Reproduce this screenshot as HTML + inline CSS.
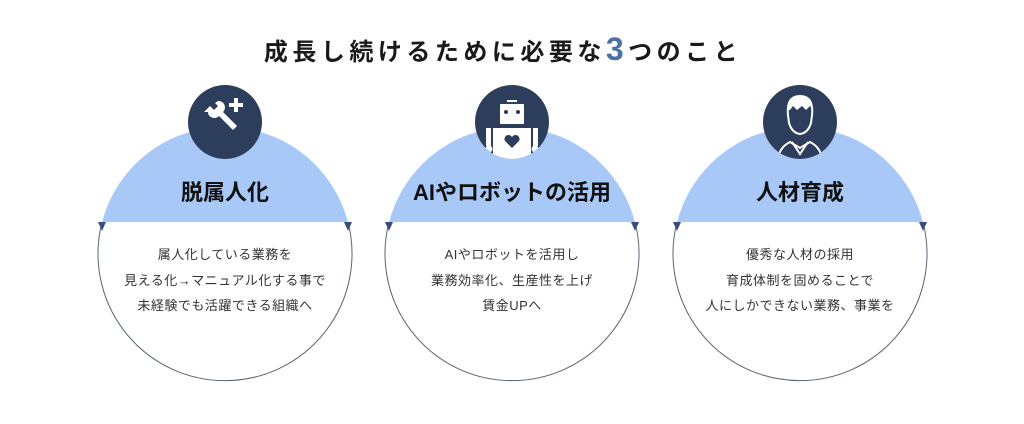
<!DOCTYPE html>
<html><head><meta charset="utf-8"><style>
html,body{margin:0;padding:0;background:#fff;}
svg{display:block;}
text{font-family:"Liberation Sans","Noto Sans CJK JP",sans-serif;}
</style></head><body>
<svg width="1024" height="424" viewBox="0 0 1024 424" xmlns="http://www.w3.org/2000/svg">
<defs>
<clipPath id="top"><rect x="0" y="0" width="1024" height="222"/></clipPath>
<clipPath id="ic2"><circle cx="512" cy="122" r="37"/></clipPath>
<clipPath id="ic3"><circle cx="800" cy="122" r="37"/></clipPath>
</defs>
<text x="503" y="60" text-anchor="middle" font-size="24" font-weight="bold" fill="#1a1a1a" letter-spacing="4.5">成長し続けるために必要な<tspan fill="#4f70a6" font-size="32">3</tspan>つのこと</text>

<g id="c1">
<path d="M102,222 A127,127 0 1 0 348,222" fill="#fff" stroke="#5a6478" stroke-width="1"/>
<circle cx="225" cy="254" r="127" fill="#a8c8f8" clip-path="url(#top)"/>
<polygon points="98,222 106,222 102,231" fill="#3a4f78"/>
<polygon points="344,222 352,222 348,231" fill="#3a4f78"/>
<text x="225" y="200" text-anchor="middle" font-size="22" font-weight="bold" fill="#111">脱属人化</text>
<g font-size="13" fill="#333" text-anchor="middle" letter-spacing="0.5">
<text x="225" y="259">属人化している業務を</text>
<text x="225" y="285">見える化→マニュアル化する事で</text>
<text x="225" y="310">未経験でも活躍できる組織へ</text>
</g>
<circle cx="225" cy="122" r="37" fill="#2d3d5c"/>
<g fill="#fff">
<path d="M204,112 l6,-6 l4,4 l4,-4 l-3,-3 l3,-2 q6,0 7,6 q0,3 -2,5 l14,14 l-4,4 l-14,-14 q-2,2 -5,2 q-6,-1 -6,-6z" />
<rect x="229" y="103" width="14" height="4"/>
<rect x="234" y="98" width="4" height="14"/>
</g>
</g>

<g id="c2">
<path d="M389,222 A127,127 0 1 0 635,222" fill="#fff" stroke="#5a6478" stroke-width="1"/>
<circle cx="512" cy="254" r="127" fill="#a8c8f8" clip-path="url(#top)"/>
<polygon points="385,222 393,222 389,231" fill="#3a4f78"/>
<polygon points="631,222 639,222 635,231" fill="#3a4f78"/>
<text x="512" y="200" text-anchor="middle" font-size="22" font-weight="bold" fill="#111">AIやロボットの活用</text>
<g font-size="13" fill="#333" text-anchor="middle" letter-spacing="0.5">
<text x="512" y="259">AIやロボットを活用し</text>
<text x="512" y="285">業務効率化、生産性を上げ</text>
<text x="512" y="310">賃金UPへ</text>
</g>
<circle cx="512" cy="122" r="37" fill="#2d3d5c"/>
<g fill="#fff" clip-path="url(#ic2)">
<rect x="500" y="104" width="24" height="20" rx="1"/>
<rect x="507" y="100" width="10" height="2"/>
<rect x="493" y="128" width="38" height="34"/>
<rect x="486" y="128" width="5" height="18"/>
<rect x="533" y="128" width="5" height="18"/>
<circle cx="489" cy="149" r="3.5"/>
<circle cx="535" cy="149" r="3.5"/>
</g>
<circle cx="506" cy="112" r="2" fill="#2d3d5c"/>
<circle cx="518" cy="112" r="2" fill="#2d3d5c"/>
<path d="M512,148 l-7,-7 a4,4 0 0 1 7,-4 a4,4 0 0 1 7,4z" fill="#2d3d5c"/>
</g>

<g id="c3">
<path d="M677,222 A127,127 0 1 0 923,222" fill="#fff" stroke="#5a6478" stroke-width="1"/>
<circle cx="800" cy="254" r="127" fill="#a8c8f8" clip-path="url(#top)"/>
<polygon points="673,222 681,222 677,231" fill="#3a4f78"/>
<polygon points="919,222 927,222 923,231" fill="#3a4f78"/>
<text x="800" y="200" text-anchor="middle" font-size="22" font-weight="bold" fill="#111">人材育成</text>
<g font-size="13" fill="#333" text-anchor="middle" letter-spacing="0.5">
<text x="800" y="259">優秀な人材の採用</text>
<text x="800" y="285">育成体制を固めることで</text>
<text x="800" y="310">人にしかできない業務、事業を</text>
</g>
<circle cx="800" cy="122" r="37" fill="#2d3d5c"/>
<g clip-path="url(#ic3)">
<g fill="none" stroke="#fff" stroke-width="2">
<path d="M788,115 q-2,-18 12,-18 q14,0 12,18 l-1,8 q-3,10 -11,11 q-8,-1 -11,-11z"/>
<path d="M778,162 q0,-14 12,-20 l10,6 l10,-6 q12,6 12,20"/>
<path d="M792,142 l8,12 l8,-12"/>
</g>
<path d="M787,110 q0,-15 13,-15 q13,0 13,15 l-3,-4 l-4,4 l-4,-4 l-5,4 l-4,-4 l-3,4z" fill="#fff"/>
</g>
</g>
</svg>
</body></html>
